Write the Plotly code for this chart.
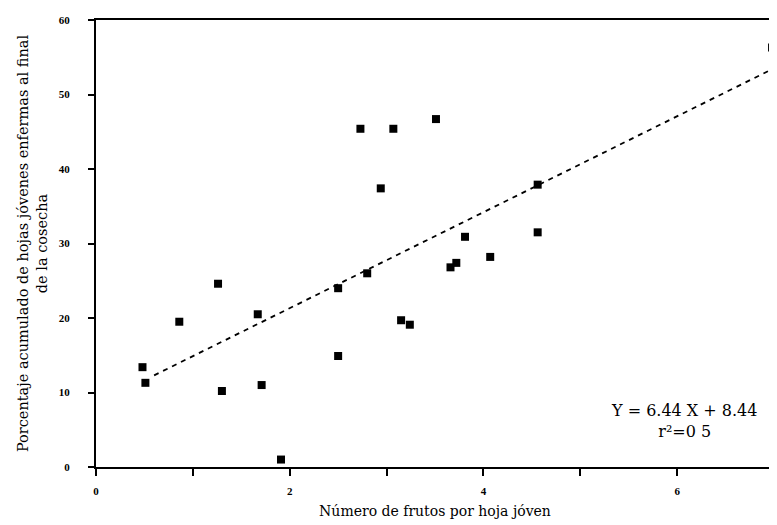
import numpy as np
import plotly.graph_objects as go

frutos = [0.48, 0.51, 0.86, 1.26, 1.30, 1.67, 1.71, 1.91, 2.50, 2.50, 2.80, 2.73,
          3.07, 2.94, 3.51, 4.56, 4.56, 3.81, 4.07, 3.66, 3.72, 3.15, 3.24, 6.98]
porcentaje = [13.4, 11.3, 19.5, 24.6, 10.2, 20.5, 11.0, 1.0, 24.0, 14.9, 26.0, 45.4,
              45.4, 37.4, 46.7, 37.9, 31.5, 30.9, 28.2, 26.8, 27.4, 19.7, 19.1, 56.3]
slope = 6.44
intercept = 8.44
fit_x = [0.6, 7.0]
x_ticks = [0, 1, 2, 3, 4, 5, 6, 7]
x_ticklabels = ["0", "", "2", "", "4", "", "6", ""]
y_ticks = [0, 10, 20, 30, 40, 50, 60]

fit_y = list(slope * np.array(fit_x) + intercept)

font = "DejaVu Serif, Liberation Serif, serif"
tfont = "Liberation Serif, serif"

fig = go.Figure()
fig.add_trace(go.Scatter(x=fit_x, y=fit_y, mode="lines",
                         line=dict(color="black", width=1.8, dash="5px,5px"),
                         showlegend=False, hoverinfo="skip"))
fig.add_trace(go.Scatter(x=frutos, y=porcentaje, mode="markers",
                         marker=dict(symbol="square", size=8, color="black"),
                         cliponaxis=False, showlegend=False))

fig.add_annotation(x=0.867, y=0.103, xref="paper", yref="paper",
                   xanchor="center", yanchor="middle",
                   text="Y = 6.44 X + 8.44<br>r²=0 5", showarrow=False,
                   font=dict(family=font, size=16, color="black"), align="center")

fig.update_layout(
    width=769, height=517,
    margin=dict(l=88, r=1, t=12, b=58),
    paper_bgcolor="white", plot_bgcolor="white",
    font=dict(family=font, color="black"),
    xaxis=dict(range=[0, 7], tickvals=x_ticks, ticktext=x_ticklabels,
               showgrid=False, zeroline=False, showline=True, linecolor="black",
               linewidth=2, mirror=True, ticks="outside", ticklen=7, tickwidth=2,
               tickcolor="black", ticklabelstandoff=6,
               tickfont=dict(family=tfont, size=11, weight="bold"),
               title=dict(text="Número de frutos por hoja jóven", standoff=10,
                          font=dict(family=font, size=14))),
    yaxis=dict(range=[0, 60], tickvals=y_ticks, showgrid=False, zeroline=False,
               showline=True, linecolor="black", linewidth=2, mirror=True,
               ticks="outside", ticklen=6, tickwidth=2, tickcolor="black",
               ticklabelstandoff=16,
               tickfont=dict(family=tfont, size=11, weight="bold"),
               title=dict(text="Porcentaje acumulado de hojas jóvenes enfermas al final<br>de la cosecha",
                          standoff=8, font=dict(family=font, size=14.5))),
)

fig.write_html("out.html")
